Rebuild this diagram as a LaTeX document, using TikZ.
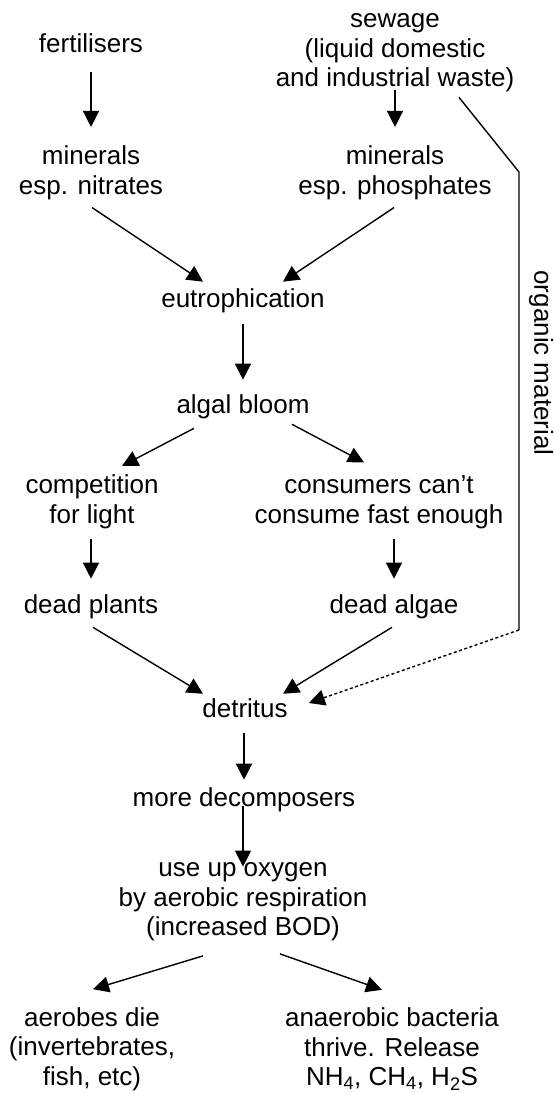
\documentclass[tikz,border=0pt]{standalone}
\usepackage{fontspec}
\setmainfont{Liberation Sans}
\usetikzlibrary{arrows.meta}
\tikzset{
  stage/.style = {align=center, inner sep=0pt, text centered,
    font=\fontsize{26}{29.5}\selectfont},% one step of the chain
  flw/.style = {-{Triangle[width=16pt,length=16pt]}, line width=1.4pt},% arrow
  flw_dot/.style = {flw, dash pattern=on 3pt off 2.5pt}% dotted end of the organic path
}

\begin{document}
\begin{tikzpicture}[x=1pt,y=-1pt]
  \useasboundingbox (0,0) rectangle (554,1093);

  \node [stage] (fert)     at (91,43)    {fertilisers};
  \node [stage] (sewage)   at (395,53)   {sewage\\(liquid domestic\\and industrial waste)};
  \node [stage] (nitr)     at (91,173)   {minerals\\esp. nitrates};
  \node [stage] (phos)     at (395,173)  {minerals\\esp. phosphates};
  \node [stage] (eutro)    at (243,301)  {eutrophication};
  \node [stage] (bloom)    at (243,407)  {algal bloom};
  \node [stage] (comp)     at (92,502)   {competition\\for light};
  \node [stage] (cons)     at (379,502)  {consumers can't\\consume fast enough};
  \node [stage] (plants)   at (91,607)   {dead plants};
  \node [stage] (algae)    at (394,607)  {dead algae};
  \node [stage] (detritus) at (245,708.5) {detritus};
  \node [stage] (decomp)   at (244,800)  {more decomposers};
  \node [stage] (oxygen)   at (243,902)  {use up oxygen\\by aerobic respiration\\(increased BOD)};
  \node [stage] (aerobes)  at (92,1049)  {aerobes die\\(invertebrates,\\fish, etc)};
  \node [stage] (anaer)    at (392,1049) {anaerobic bacteria\\thrive. Release\\NH\textsubscript{4}, CH\textsubscript{4}, H\textsubscript{2}S};
  \node [stage, rotate=-90] (organic) at (541,363) {organic material};

  \coordinate (bendA) at (519,172);
  \coordinate (bendB) at (519,630);

  % straight down
  \foreach \from/\to/\s/\e in {fert/nitr/19.5/19, sewage/phos/-2/19, eutro/bloom/11/15,
      comp/plants/10/16, cons/algae/10/16, detritus/decomp/15/8, decomp/oxygen/-6/-4}
    \draw [flw, shorten <=\s pt, shorten >=\e pt] (\to.north |- \from.south) -- (\to.north);

  % slanting
  \draw [flw] ([xshift=1pt,yshift=-7.5pt]nitr.south) -- ([xshift=-40pt,yshift=7pt]eutro.north);
  \draw [flw] ([xshift=-1pt,yshift=-7.5pt]phos.south) -- ([xshift=40pt,yshift=7pt]eutro.north);
  \draw [flw] ([xshift=-49pt,yshift=-9pt]bloom.south) -- ([xshift=30pt,yshift=9pt]comp.north);
  \draw [flw] ([xshift=49pt,yshift=-5pt]bloom.south) -- ([xshift=-15pt,yshift=13pt]cons.north);
  \draw [flw] ([xshift=2pt,yshift=-8pt]plants.south) -- ([xshift=-42pt,yshift=5pt]detritus.north);
  \draw [flw] ([xshift=-2pt,yshift=-8pt]algae.south) -- ([xshift=38pt,yshift=5pt]detritus.north);
  \draw [flw] ([xshift=-40pt,yshift=-14.5pt]oxygen.south) -- ([xshift=1pt,yshift=18pt]aerobes.north);
  \draw [flw] ([xshift=37pt,yshift=-12.5pt]oxygen.south) -- ([xshift=-10pt,yshift=18pt]anaer.north);

  % organic material path
  \draw [line width=1.4pt] ([xshift=64pt,yshift=-5pt]sewage.south) -- (bendA) -- (bendB);
  \draw [flw_dot] (bendB) -- ([xshift=21pt,yshift=5.5pt]detritus.east);
\end{tikzpicture}
\end{document}
